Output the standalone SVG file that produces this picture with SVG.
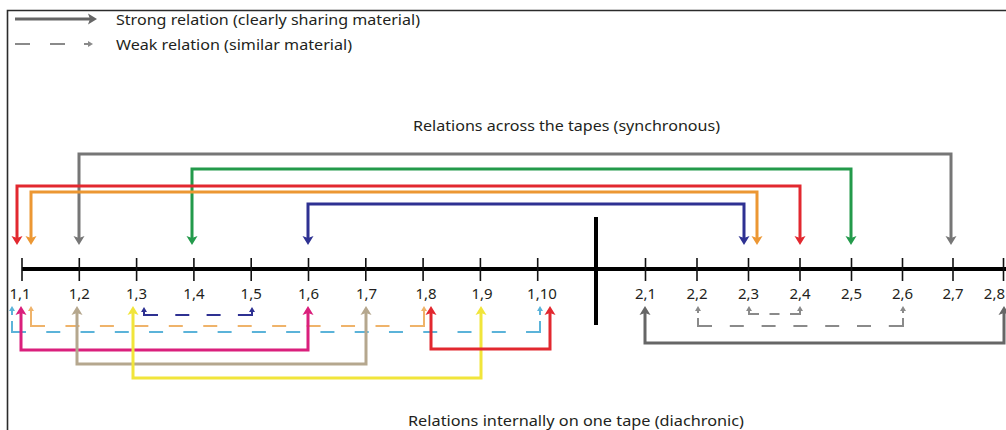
<svg xmlns="http://www.w3.org/2000/svg" width="1006" height="430" viewBox="0 0 1006 430">
  <style>
    text { font-family: "Noto Sans", "Open Sans", "Liberation Sans", sans-serif; fill: #231f20; }
    .lbl { font-size: 15px; text-anchor: middle; }
    .cap { font-size: 15px; }
    .rel { fill: none; stroke-width: 3; }
    .weak { fill: none; stroke-width: 2; }
    .tick { stroke: #111; stroke-width: 1.6; }
  </style>
  <defs>
    <marker id="a-gray" markerUnits="userSpaceOnUse" markerWidth="14" markerHeight="14" refX="2" refY="0" viewBox="0 -7 12 14" orient="auto-start-reverse" overflow="visible"><path d="M0,-5.5 L9,0 L0,5.5 L2,0 z" fill="#767676"/></marker>
    <marker id="a-green" markerUnits="userSpaceOnUse" markerWidth="14" markerHeight="14" refX="2" refY="0" viewBox="0 -7 12 14" orient="auto-start-reverse" overflow="visible"><path d="M0,-5.5 L9,0 L0,5.5 L2,0 z" fill="#239a4b"/></marker>
    <marker id="a-red" markerUnits="userSpaceOnUse" markerWidth="14" markerHeight="14" refX="2" refY="0" viewBox="0 -7 12 14" orient="auto-start-reverse" overflow="visible"><path d="M0,-5.5 L9,0 L0,5.5 L2,0 z" fill="#e2282f"/></marker>
    <marker id="a-orange" markerUnits="userSpaceOnUse" markerWidth="14" markerHeight="14" refX="2" refY="0" viewBox="0 -7 12 14" orient="auto-start-reverse" overflow="visible"><path d="M0,-5.5 L9,0 L0,5.5 L2,0 z" fill="#ec9733"/></marker>
    <marker id="a-navy" markerUnits="userSpaceOnUse" markerWidth="14" markerHeight="14" refX="2" refY="0" viewBox="0 -7 12 14" orient="auto-start-reverse" overflow="visible"><path d="M0,-5.5 L9,0 L0,5.5 L2,0 z" fill="#2e3192"/></marker>
    <marker id="a-magenta" markerUnits="userSpaceOnUse" markerWidth="14" markerHeight="14" refX="2" refY="0" viewBox="0 -7 12 14" orient="auto-start-reverse" overflow="visible"><path d="M0,-5.5 L9,0 L0,5.5 L2,0 z" fill="#da1f7c"/></marker>
    <marker id="a-tan" markerUnits="userSpaceOnUse" markerWidth="14" markerHeight="14" refX="2" refY="0" viewBox="0 -7 12 14" orient="auto-start-reverse" overflow="visible"><path d="M0,-5.5 L9,0 L0,5.5 L2,0 z" fill="#b5a78e"/></marker>
    <marker id="a-yellow" markerUnits="userSpaceOnUse" markerWidth="14" markerHeight="14" refX="2" refY="0" viewBox="0 -7 12 14" orient="auto-start-reverse" overflow="visible"><path d="M0,-5.5 L9,0 L0,5.5 L2,0 z" fill="#f1e53b"/></marker>
    <marker id="a-dark" markerUnits="userSpaceOnUse" markerWidth="14" markerHeight="14" refX="2" refY="0" viewBox="0 -7 12 14" orient="auto-start-reverse" overflow="visible"><path d="M0,-5.5 L9,0 L0,5.5 L2,0 z" fill="#666666"/></marker>
    <!-- small heads for weak (dashed) relations -->
    <marker id="w-blue" markerUnits="userSpaceOnUse" markerWidth="8" markerHeight="8" refX="1" refY="0" viewBox="0 -4 7 8" orient="auto" overflow="visible"><path d="M0,-3 L5,0 L0,3 z" fill="#5bb3d9"/></marker>
    <marker id="w-orange" markerUnits="userSpaceOnUse" markerWidth="8" markerHeight="8" refX="1" refY="0" viewBox="0 -4 7 8" orient="auto" overflow="visible"><path d="M0,-3 L5,0 L0,3 z" fill="#efb36a"/></marker>
    <marker id="w-navy" markerUnits="userSpaceOnUse" markerWidth="8" markerHeight="8" refX="1" refY="0" viewBox="0 -4 7 8" orient="auto" overflow="visible"><path d="M0,-3 L5,0 L0,3 z" fill="#2e3192"/></marker>
    <marker id="w-gray" markerUnits="userSpaceOnUse" markerWidth="8" markerHeight="8" refX="1" refY="0" viewBox="0 -4 7 8" orient="auto" overflow="visible"><path d="M0,-3 L5,0 L0,3 z" fill="#8a8a8a"/></marker>
  </defs>

  <rect width="1006" height="430" fill="#ffffff"/>

  <!-- frame -->
  <path d="M7.5,430 V10.5 H1006" fill="none" stroke="#2b2b2b" stroke-width="1.6"/>

  <!-- legend -->
  <g id="legend">
    <path d="M15,19 H90" class="rel" stroke="#666666" marker-end="url(#a-dark)"/>
    <text class="cap" x="116" y="25" textLength="304" lengthAdjust="spacingAndGlyphs">Strong relation (clearly sharing material)</text>
    <path d="M15,44 H30 M50,44 H65" fill="none" stroke="#8a8a8a" stroke-width="2"/>
    <path d="M84,44 H89" fill="none" stroke="#8a8a8a" stroke-width="2" marker-end="url(#w-gray)"/>
    <text class="cap" x="116" y="50" textLength="236" lengthAdjust="spacingAndGlyphs">Weak relation (similar material)</text>
  </g>

  <text class="cap" x="413" y="131" textLength="307" lengthAdjust="spacingAndGlyphs">Relations across the tapes (synchronous)</text>
  <text class="cap" x="408" y="426" textLength="336" lengthAdjust="spacingAndGlyphs">Relations internally on one tape (diachronic)</text>

  <!-- timeline -->
  <g id="timeline">
    <path d="M22,269 H1006" stroke="#000" stroke-width="4"/>
    <path d="M596,217 V325" stroke="#000" stroke-width="4"/>
  </g>

  <!-- tape 1 -->
  <g id="t1-1"><line class="tick" x1="22" y1="258" x2="22" y2="281"/><text class="lbl" x="20" y="299">1,1</text></g>
  <g id="t1-2"><line class="tick" x1="79.3" y1="258" x2="79.3" y2="281"/><text class="lbl" x="79.3" y="299">1,2</text></g>
  <g id="t1-3"><line class="tick" x1="136.6" y1="258" x2="136.6" y2="281"/><text class="lbl" x="136.6" y="299">1,3</text></g>
  <g id="t1-4"><line class="tick" x1="193.9" y1="258" x2="193.9" y2="281"/><text class="lbl" x="193.9" y="299">1,4</text></g>
  <g id="t1-5"><line class="tick" x1="251.2" y1="258" x2="251.2" y2="281"/><text class="lbl" x="251.2" y="299">1,5</text></g>
  <g id="t1-6"><line class="tick" x1="308.5" y1="258" x2="308.5" y2="281"/><text class="lbl" x="308.5" y="299">1,6</text></g>
  <g id="t1-7"><line class="tick" x1="365.8" y1="258" x2="365.8" y2="281"/><text class="lbl" x="366.5" y="299">1,7</text></g>
  <g id="t1-8"><line class="tick" x1="423.1" y1="258" x2="423.1" y2="281"/><text class="lbl" x="426" y="299">1,8</text></g>
  <g id="t1-9"><line class="tick" x1="480.4" y1="258" x2="480.4" y2="281"/><text class="lbl" x="482" y="299">1,9</text></g>
  <g id="t1-10"><line class="tick" x1="537.7" y1="258" x2="537.7" y2="281"/><text class="lbl" x="542" y="299">1,10</text></g>

  <!-- tape 2 -->
  <g id="t2-1"><line class="tick" x1="645.5" y1="258" x2="645.5" y2="281"/><text class="lbl" x="645.5" y="299">2,1</text></g>
  <g id="t2-2"><line class="tick" x1="697" y1="258" x2="697" y2="281"/><text class="lbl" x="697" y="299">2,2</text></g>
  <g id="t2-3"><line class="tick" x1="748.5" y1="258" x2="748.5" y2="281"/><text class="lbl" x="748.5" y="299">2,3</text></g>
  <g id="t2-4"><line class="tick" x1="800" y1="258" x2="800" y2="281"/><text class="lbl" x="800" y="299">2,4</text></g>
  <g id="t2-5"><line class="tick" x1="851.5" y1="258" x2="851.5" y2="281"/><text class="lbl" x="851.5" y="299">2,5</text></g>
  <g id="t2-6"><line class="tick" x1="902.5" y1="258" x2="902.5" y2="281"/><text class="lbl" x="902.5" y="299">2,6</text></g>
  <g id="t2-7"><line class="tick" x1="953" y1="258" x2="953" y2="281"/><text class="lbl" x="953" y="299">2,7</text></g>
  <g id="t2-8"><line class="tick" x1="1003.5" y1="258" x2="1003.5" y2="281"/><text class="lbl" x="1005" y="299" text-anchor="end" style="text-anchor:end">2,8</text></g>

  <g id="connectors">
    <!-- synchronous (across tapes) -->
    <path class="rel" stroke="#767676" d="M79,238 V154 H951 V238" marker-start="url(#a-gray)" marker-end="url(#a-gray)"/>
    <path class="rel" stroke="#239a4b" d="M192,238 V169 H851 V238" marker-start="url(#a-green)" marker-end="url(#a-green)"/>
    <path class="rel" stroke="#e2282f" d="M17,238 V186 H800 V238" marker-start="url(#a-red)" marker-end="url(#a-red)"/>
    <path class="rel" stroke="#ec9733" d="M31,238 V192 H757 V238" marker-start="url(#a-orange)" marker-end="url(#a-orange)"/>
    <path class="rel" stroke="#2e3192" d="M308,238 V204 H744 V238" marker-start="url(#a-navy)" marker-end="url(#a-navy)"/>

    <!-- diachronic, weak: dashed run plus two upward stems -->
    <g id="weak-1-1-1-10" stroke="#5bb3d9">
      <path class="weak" d="M12,332 H540" stroke-dasharray="14 20.27"/>
      <path class="weak" d="M12,333 V310" stroke-dasharray="12 6 20" marker-end="url(#w-blue)"/>
      <path class="weak" d="M540,333 V310" stroke-dasharray="12 6 20" marker-end="url(#w-blue)"/>
    </g>
    <g id="weak-1-1-1-8" stroke="#efb36a">
      <path class="weak" d="M31,326 H424" stroke-dasharray="14 20.45"/>
      <path class="weak" d="M31,327 V310" marker-end="url(#w-orange)"/>
      <path class="weak" d="M424,327 V310" marker-end="url(#w-orange)"/>
    </g>
    <g id="weak-1-3-1-5" stroke="#2e3192">
      <path class="weak" d="M144,315 H252" stroke-dasharray="14 17.3"/>
      <path class="weak" d="M144,316 V311" marker-end="url(#w-navy)"/>
      <path class="weak" d="M252,316 V311" marker-end="url(#w-navy)"/>
    </g>
    <g id="weak-2-3-2-4" stroke="#8a8a8a">
      <path class="weak" d="M749,314 H800" stroke-dasharray="10 10.5"/>
      <path class="weak" d="M749,315 V310" marker-end="url(#w-gray)"/>
      <path class="weak" d="M800,315 V310" marker-end="url(#w-gray)"/>
    </g>
    <g id="weak-2-2-2-6" stroke="#8a8a8a">
      <path class="weak" d="M698,326 H903" stroke-dasharray="14 17.8"/>
      <path class="weak" d="M698,327 V310" stroke-dasharray="9 5 20" marker-end="url(#w-gray)"/>
      <path class="weak" d="M903,327 V310" stroke-dasharray="9 5 20" marker-end="url(#w-gray)"/>
    </g>

    <!-- diachronic, strong -->
    <path class="rel" stroke="#da1f7c" d="M21,313 V350 H308 V313" marker-start="url(#a-magenta)" marker-end="url(#a-magenta)"/>
    <path class="rel" stroke="#b5a78e" d="M77,313 V364 H366 V313" marker-start="url(#a-tan)" marker-end="url(#a-tan)"/>
    <path class="rel" stroke="#f1e53b" d="M133,313 V378 H481 V313" marker-start="url(#a-yellow)" marker-end="url(#a-yellow)"/>
    <path class="rel" stroke="#e2282f" d="M431,313 V349 H550 V313" marker-start="url(#a-red)" marker-end="url(#a-red)"/>
    <path class="rel" stroke="#666666" d="M645,313 V343 H1004 V313" marker-start="url(#a-dark)" marker-end="url(#a-dark)"/>
  </g>
</svg>
